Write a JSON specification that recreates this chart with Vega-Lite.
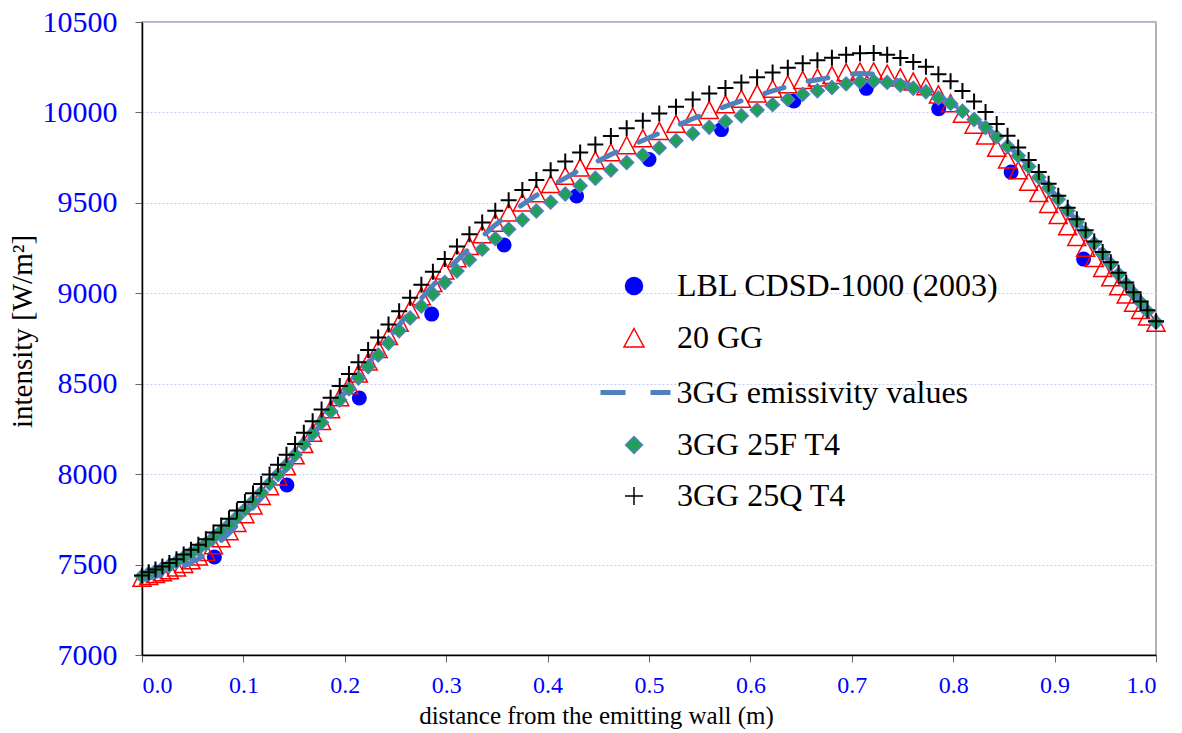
{
  "$schema": "https://vega.github.io/schema/vega-lite/v6.json",
  "width": 1014,
  "height": 633,
  "autosize": {"type": "none"},
  "padding": {"left": 142, "top": 22, "right": 26, "bottom": 78},
  "background": "white",
  "config": {
    "font": "Liberation Serif",
    "view": {"stroke": "#999999", "strokeWidth": 1.5},
    "legend": {
      "orient": "none",
      "title": null,
      "labelFont": "Liberation Serif",
      "labelFontSize": 32,
      "labelColor": "#000000",
      "labelLimit": 500,
      "symbolSize": 1600,
      "labelOffset": 22,
      "symbolStrokeWidth": 1.5,
      "symbolOpacity": 1
    }
  },
  "resolve": {"scale": {"color": "independent"}, "legend": {"color": "independent"}},
  "datasets": {
    "lbl": [
      {"x": 0.0714, "y": 7542}, {"x": 0.1429, "y": 7940}, {"x": 0.2143, "y": 8421},
      {"x": 0.2857, "y": 8885}, {"x": 0.3571, "y": 9267}, {"x": 0.4286, "y": 9538},
      {"x": 0.5, "y": 9740}, {"x": 0.5714, "y": 9905}, {"x": 0.6429, "y": 10063},
      {"x": 0.7143, "y": 10133}, {"x": 0.7857, "y": 10020}, {"x": 0.8571, "y": 9670},
      {"x": 0.9286, "y": 9189}
    ],
    "curves": [
      {"x": 0, "gg": 7425, "em": 7415, "f": 7435, "q": 7440},
      {"x": 0.0066, "gg": 7435, "em": 7425, "f": 7450, "q": 7457},
      {"x": 0.0133, "gg": 7445, "em": 7435, "f": 7464, "q": 7473},
      {"x": 0.0201, "gg": 7455, "em": 7445, "f": 7479, "q": 7490},
      {"x": 0.027, "gg": 7466, "em": 7456, "f": 7495, "q": 7508},
      {"x": 0.034, "gg": 7482, "em": 7472, "f": 7515, "q": 7530},
      {"x": 0.0411, "gg": 7501, "em": 7491, "f": 7539, "q": 7556},
      {"x": 0.0483, "gg": 7521, "em": 7511, "f": 7563, "q": 7582},
      {"x": 0.0556, "gg": 7542, "em": 7532, "f": 7587, "q": 7609},
      {"x": 0.063, "gg": 7567, "em": 7557, "f": 7615, "q": 7640},
      {"x": 0.0705, "gg": 7604, "em": 7594, "f": 7650, "q": 7678},
      {"x": 0.0781, "gg": 7643, "em": 7633, "f": 7685, "q": 7716},
      {"x": 0.0858, "gg": 7682, "em": 7672, "f": 7720, "q": 7754},
      {"x": 0.0936, "gg": 7728, "em": 7718, "f": 7762, "q": 7799},
      {"x": 0.1015, "gg": 7776, "em": 7766, "f": 7805, "q": 7846},
      {"x": 0.1095, "gg": 7825, "em": 7815, "f": 7850, "q": 7894},
      {"x": 0.1176, "gg": 7877, "em": 7867, "f": 7898, "q": 7945},
      {"x": 0.1258, "gg": 7931, "em": 7921, "f": 7948, "q": 7998},
      {"x": 0.1341, "gg": 7985, "em": 7975, "f": 7998, "q": 8052},
      {"x": 0.1425, "gg": 8041, "em": 8031, "f": 8050, "q": 8107},
      {"x": 0.151, "gg": 8102, "em": 8092, "f": 8107, "q": 8167},
      {"x": 0.1596, "gg": 8164, "em": 8154, "f": 8165, "q": 8229},
      {"x": 0.1683, "gg": 8227, "em": 8217, "f": 8225, "q": 8292},
      {"x": 0.1771, "gg": 8292, "em": 8282, "f": 8286, "q": 8357},
      {"x": 0.186, "gg": 8357, "em": 8347, "f": 8348, "q": 8422},
      {"x": 0.195, "gg": 8423, "em": 8413, "f": 8410, "q": 8488},
      {"x": 0.2041, "gg": 8489, "em": 8479, "f": 8472, "q": 8554},
      {"x": 0.2134, "gg": 8554, "em": 8544, "f": 8532, "q": 8619},
      {"x": 0.223, "gg": 8621, "em": 8611, "f": 8594, "q": 8686},
      {"x": 0.2329, "gg": 8690, "em": 8680, "f": 8659, "q": 8755},
      {"x": 0.2431, "gg": 8762, "em": 8752, "f": 8725, "q": 8827},
      {"x": 0.2536, "gg": 8835, "em": 8825, "f": 8793, "q": 8900},
      {"x": 0.2644, "gg": 8910, "em": 8900, "f": 8863, "q": 8975},
      {"x": 0.2755, "gg": 8982, "em": 8972, "f": 8929, "q": 9047},
      {"x": 0.2869, "gg": 9054, "em": 9044, "f": 8996, "q": 9119},
      {"x": 0.2986, "gg": 9124, "em": 9114, "f": 9060, "q": 9189},
      {"x": 0.3106, "gg": 9192, "em": 9182, "f": 9123, "q": 9258},
      {"x": 0.3229, "gg": 9259, "em": 9249, "f": 9185, "q": 9326},
      {"x": 0.3355, "gg": 9324, "em": 9314, "f": 9244, "q": 9392},
      {"x": 0.3484, "gg": 9388, "em": 9378, "f": 9302, "q": 9456},
      {"x": 0.3616, "gg": 9445, "em": 9435, "f": 9354, "q": 9514},
      {"x": 0.3751, "gg": 9500, "em": 9490, "f": 9406, "q": 9571},
      {"x": 0.3889, "gg": 9551, "em": 9541, "f": 9455, "q": 9626},
      {"x": 0.403, "gg": 9602, "em": 9592, "f": 9504, "q": 9680},
      {"x": 0.4174, "gg": 9647, "em": 9637, "f": 9549, "q": 9729},
      {"x": 0.4321, "gg": 9693, "em": 9683, "f": 9595, "q": 9778},
      {"x": 0.4471, "gg": 9734, "em": 9724, "f": 9636, "q": 9823},
      {"x": 0.4624, "gg": 9777, "em": 9767, "f": 9681, "q": 9869},
      {"x": 0.478, "gg": 9817, "em": 9807, "f": 9723, "q": 9912},
      {"x": 0.4939, "gg": 9855, "em": 9845, "f": 9764, "q": 9954},
      {"x": 0.5101, "gg": 9895, "em": 9885, "f": 9804, "q": 9994},
      {"x": 0.5266, "gg": 9935, "em": 9925, "f": 9843, "q": 10032},
      {"x": 0.5431, "gg": 9975, "em": 9965, "f": 9883, "q": 10071},
      {"x": 0.5594, "gg": 10011, "em": 10001, "f": 9918, "q": 10105},
      {"x": 0.5754, "gg": 10043, "em": 10033, "f": 9950, "q": 10135},
      {"x": 0.5911, "gg": 10074, "em": 10064, "f": 9982, "q": 10165},
      {"x": 0.6066, "gg": 10103, "em": 10093, "f": 10013, "q": 10194},
      {"x": 0.6219, "gg": 10129, "em": 10119, "f": 10043, "q": 10221},
      {"x": 0.6369, "gg": 10153, "em": 10143, "f": 10072, "q": 10247},
      {"x": 0.6516, "gg": 10177, "em": 10167, "f": 10100, "q": 10272},
      {"x": 0.6661, "gg": 10191, "em": 10181, "f": 10120, "q": 10288},
      {"x": 0.6804, "gg": 10205, "em": 10195, "f": 10138, "q": 10303},
      {"x": 0.6944, "gg": 10220, "em": 10210, "f": 10158, "q": 10319},
      {"x": 0.7081, "gg": 10225, "em": 10215, "f": 10169, "q": 10327},
      {"x": 0.7216, "gg": 10225, "em": 10212, "f": 10173, "q": 10329},
      {"x": 0.7349, "gg": 10212, "em": 10195, "f": 10166, "q": 10319},
      {"x": 0.7479, "gg": 10191, "em": 10170, "f": 10151, "q": 10301},
      {"x": 0.7606, "gg": 10169, "em": 10145, "f": 10134, "q": 10279},
      {"x": 0.7731, "gg": 10142, "em": 10120, "f": 10114, "q": 10252},
      {"x": 0.7854, "gg": 10097, "em": 10085, "f": 10080, "q": 10211},
      {"x": 0.7974, "gg": 10049, "em": 10055, "f": 10050, "q": 10172},
      {"x": 0.8091, "gg": 9991, "em": 10012, "f": 10007, "q": 10118},
      {"x": 0.8206, "gg": 9930, "em": 9966, "f": 9961, "q": 10060},
      {"x": 0.8319, "gg": 9870, "em": 9922, "f": 9917, "q": 10002},
      {"x": 0.8429, "gg": 9802, "em": 9870, "f": 9865, "q": 9936},
      {"x": 0.8536, "gg": 9738, "em": 9818, "f": 9813, "q": 9871},
      {"x": 0.8641, "gg": 9678, "em": 9765, "f": 9760, "q": 9806},
      {"x": 0.8744, "gg": 9614, "em": 9706, "f": 9701, "q": 9737},
      {"x": 0.8844, "gg": 9552, "em": 9647, "f": 9642, "q": 9670},
      {"x": 0.8941, "gg": 9492, "em": 9587, "f": 9582, "q": 9605},
      {"x": 0.9036, "gg": 9430, "em": 9525, "f": 9520, "q": 9539},
      {"x": 0.9129, "gg": 9368, "em": 9461, "f": 9456, "q": 9473},
      {"x": 0.9219, "gg": 9309, "em": 9399, "f": 9394, "q": 9410},
      {"x": 0.9306, "gg": 9250, "em": 9339, "f": 9334, "q": 9348},
      {"x": 0.9391, "gg": 9193, "em": 9280, "f": 9275, "q": 9287},
      {"x": 0.9474, "gg": 9137, "em": 9222, "f": 9217, "q": 9228},
      {"x": 0.9554, "gg": 9086, "em": 9167, "f": 9162, "q": 9171},
      {"x": 0.9631, "gg": 9037, "em": 9110, "f": 9105, "q": 9114},
      {"x": 0.9706, "gg": 8991, "em": 9057, "f": 9052, "q": 9060},
      {"x": 0.9779, "gg": 8946, "em": 9004, "f": 8999, "q": 9006},
      {"x": 0.9849, "gg": 8906, "em": 8954, "f": 8949, "q": 8955},
      {"x": 0.9916, "gg": 8870, "em": 8905, "f": 8900, "q": 8906},
      {"x": 1.0, "gg": 8835, "em": 8845, "f": 8840, "q": 8845}
    ]
  },
  "encoding": {
    "x": {
      "field": "x", "type": "quantitative",
      "scale": {"domain": [0, 1], "nice": false, "zero": false},
      "axis": {
        "values": [0, 0.1, 0.2, 0.3, 0.4, 0.5, 0.6, 0.7, 0.8, 0.9, 1.0],
        "format": ".1f",
        "grid": false,
        "labelFont": "Liberation Serif", "labelFontSize": 24, "labelColor": "#0000FF",
        "labelPadding": 11,
        "tickColor": "#666666", "tickSize": 7, "tickWidth": 1,
        "domainColor": "#000000", "domainWidth": 1.5,
        "title": "distance from the emitting wall (m)",
        "titleFont": "Liberation Serif", "titleFontSize": 25, "titleFontWeight": "normal",
        "titleColor": "#000000", "titlePadding": 6, "titleX": 454
      }
    },
    "y": {
      "type": "quantitative",
      "scale": {"domain": [7000, 10500], "nice": false, "zero": false},
      "axis": {
        "values": [7000, 7500, 8000, 8500, 9000, 9500, 10000, 10500],
        "format": "d",
        "grid": true, "gridColor": "#C3D1EE", "gridDash": [2, 2], "gridWidth": 1,
        "labelFont": "Liberation Serif", "labelFontSize": 30, "labelColor": "#0000FF",
        "labelPadding": 18,
        "tickColor": "#666666", "tickSize": 7, "tickWidth": 1,
        "domainColor": "#000000", "domainWidth": 1.5,
        "title": "intensity [W/m²]",
        "titleFont": "Liberation Serif", "titleFontSize": 29, "titleFontWeight": "normal",
        "titleColor": "#000000", "titlePadding": 5, "titleY": 309
      }
    }
  },
  "layer": [
    {
      "data": {"name": "lbl"},
      "mark": {"type": "point", "shape": "circle", "filled": true, "size": 225, "opacity": 1},
      "encoding": {
        "y": {"field": "y", "type": "quantitative"},
        "color": {
          "datum": "LBL CDSD-1000 (2003)", "type": "nominal",
          "scale": {"range": ["#0000FF"]},
          "legend": {
            "legendX": 471, "legendY": 243,
            "symbolType": "M0.425,0A0.425,0.425,0,1,1,-0.425,0A0.425,0.425,0,1,1,0.425,0Z",
            "symbolFillColor": "#0000FF", "symbolStrokeColor": "#0000FF"
          }
        }
      }
    },
    {
      "data": {"name": "curves"},
      "mark": {"type": "point", "shape": "M0,-1L1,0.9L-1,0.9Z", "filled": false, "size": 324, "strokeWidth": 1.5, "opacity": 1},
      "encoding": {
        "y": {"field": "gg", "type": "quantitative"},
        "color": {
          "datum": "20 GG", "type": "nominal",
          "scale": {"range": ["#FF0000"]},
          "legend": {
            "legendX": 471, "legendY": 295,
            "symbolType": "M0,-0.475L0.5,0.45L-0.5,0.45Z",
            "symbolFillColor": "transparent", "symbolStrokeColor": "#FF0000"
          }
        }
      }
    },
    {
      "data": {"name": "curves"},
      "mark": {"type": "line", "strokeWidth": 5, "strokeDash": [20, 25], "strokeCap": "round"},
      "encoding": {
        "y": {"field": "em", "type": "quantitative"},
        "color": {
          "datum": "3GG emissivity values", "type": "nominal",
          "scale": {"range": ["#4F81BD"]},
          "legend": {
            "legendX": 471, "legendY": 348,
            "labelOffset": 18.5,
            "symbolType": "M-1.75,0L1.75,0",
            "symbolStrokeWidth": 5,
            "symbolDash": [25, 25],
            "symbolStrokeColor": "#4F81BD"
          }
        }
      }
    },
    {
      "data": {"name": "curves"},
      "mark": {"type": "point", "shape": "diamond", "filled": true, "size": 190, "stroke": "#4F81BD", "strokeWidth": 1.5, "opacity": 1},
      "encoding": {
        "y": {"field": "f", "type": "quantitative"},
        "color": {
          "datum": "3GG 25F T4", "type": "nominal",
          "scale": {"range": ["#1FA055"]},
          "legend": {
            "legendX": 471, "legendY": 402,
            "symbolType": "M0,-0.42L0.42,0L0,0.42L-0.42,0Z",
            "symbolFillColor": "#1FA055", "symbolStrokeColor": "#4F81BD"
          }
        }
      }
    },
    {
      "data": {"name": "curves"},
      "mark": {"type": "point", "shape": "M-1,0L1,0M0,-1L0,1", "filled": false, "size": 256, "strokeWidth": 2, "opacity": 1},
      "encoding": {
        "y": {"field": "q", "type": "quantitative"},
        "color": {
          "datum": "3GG 25Q T4", "type": "nominal",
          "scale": {"range": ["#000000"]},
          "legend": {
            "legendX": 471, "legendY": 453,
            "symbolType": "M-0.45,0L0.45,0M0,-0.45L0,0.45",
            "symbolFillColor": "transparent", "symbolStrokeColor": "#000000"
          }
        }
      }
    }
  ]
}
